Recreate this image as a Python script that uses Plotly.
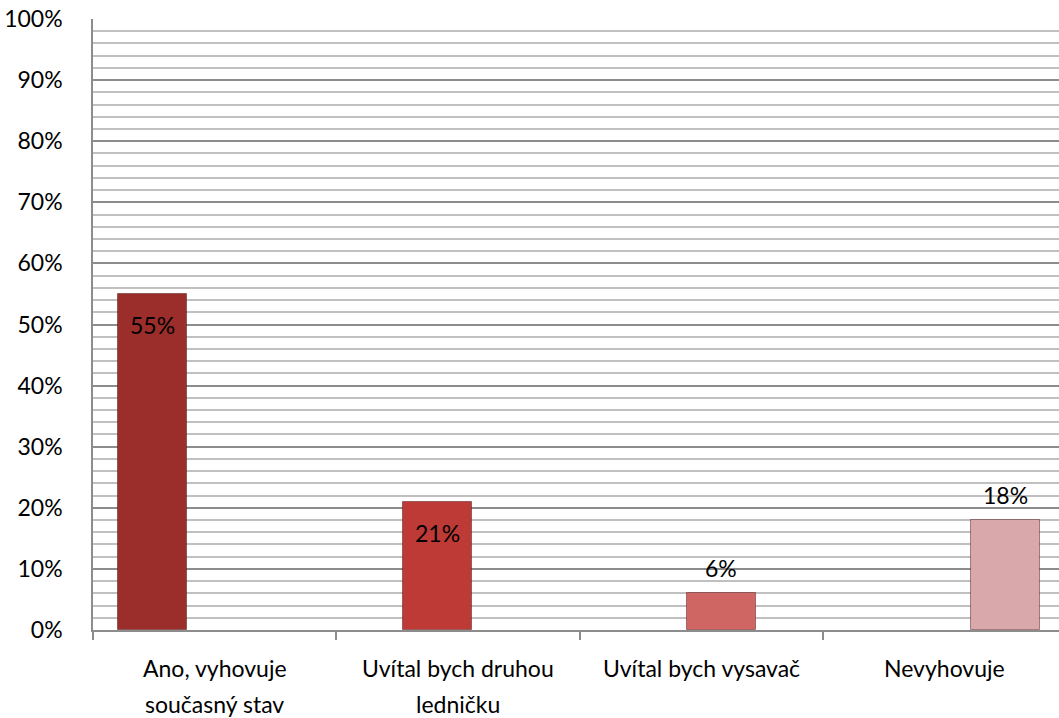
import plotly.graph_objects as go

categories = ["Ano, vyhovuje<br>současný stav", "Uvítal bych druhou<br>ledničku", "Uvítal bych vysavač", "Nevyhovuje"]
values = [0.55, 0.21, 0.06, 0.18]
labels = ["55%", "21%", "6%", "18%"]
colors = ["#9B2D2B", "#BE3A36", "#D06664", "#D8A8AA"]
offsets = [-0.397, -0.226, -0.060, 0.108]
label_inside = [True, True, False, False]

BAR_WIDTH = 0.284
FONT = "Lato"
FSIZE = 23

fig = go.Figure()
fig.add_trace(go.Bar(
    x=categories,
    y=values,
    width=BAR_WIDTH,
    offset=offsets,
    marker=dict(color=colors, line=dict(color="rgba(70,15,15,0.45)", width=1)),
    hoverinfo="skip",
))

annotations = []
# value labels
for i, (v, lab, off, inside) in enumerate(zip(values, labels, offsets, label_inside)):
    annotations.append(dict(
        x=i + off + BAR_WIDTH / 2, y=v, xref="x", yref="y",
        text=lab, showarrow=False,
        yshift=-31 if inside else 25,
        font=dict(family=FONT, size=FSIZE, color="black"),
    ))
# category labels (with Excel-like line spacing)
for i, cat in enumerate(categories):
    for k, line in enumerate(cat.split("<br>")):
        annotations.append(dict(
            x=i, y=0, xref="x", yref="y",
            text=line, showarrow=False,
            yshift=-38 - 36 * k,
            font=dict(family=FONT, size=FSIZE, color="black"),
        ))

fig.update_layout(
    width=1059, height=718,
    margin=dict(l=93, r=0, t=19, b=88),
    paper_bgcolor="white", plot_bgcolor="white",
    showlegend=False,
    font=dict(family=FONT, size=FSIZE, color="black"),
    bargap=0,
    annotations=annotations,
)
fig.update_xaxes(
    type="category",
    range=[-0.5, 3.47],
    automargin=False,
    showline=True, linecolor="#8c8c8c", linewidth=1.5,
    ticks="outside", tickson="boundaries", ticklen=8, tickcolor="#8c8c8c", tickwidth=1.5,
    showgrid=False,
    showticklabels=False,
)
fig.update_yaxes(
    range=[0, 1.0],
    automargin=False,
    tickformat=".0%",
    dtick=0.1,
    showline=True, linecolor="#8c8c8c", linewidth=1.5,
    showgrid=True, gridcolor="#8c8c8c", gridwidth=1.5,
    minor=dict(dtick=0.02, showgrid=True, gridcolor="#c0c0c0", gridwidth=1.5),
    zeroline=False,
    ticks="",
    ticklabelstandoff=24,
    ticklabeloverflow="allow",
    tickfont=dict(family=FONT, size=FSIZE, color="black"),
)

fig.write_html(
    "out.html",
    config={"displayModeBar": False},
    post_script="document.body.style.margin='0';document.body.style.overflow='hidden';",
)
